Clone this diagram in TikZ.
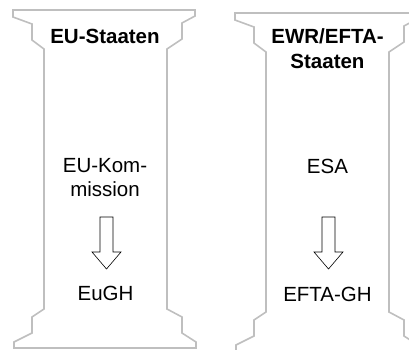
\documentclass[tikz,border=0pt]{standalone}
\usepackage{fontspec}
\setmainfont{Liberation Sans}
\begin{document}
\begin{tikzpicture}[x=1pt, y=-1pt, line join=miter]
			\tikzset{pillar/.style={draw=black!25, line width=1.6pt},
				blockarrow/.style={draw=black, line width=0.6pt, fill=white},
				label style/.style={font=\fontsize{20.5}{24.5}\selectfont, align=center, anchor=base},
				head style/.style={label style, font=\fontsize{20.5}{24.5}\selectfont\bfseries}}
			\useasboundingbox (0,0) rectangle (409,349);
			% the two pillars
			\foreach \dx/\dy in {0/0,222/3}
			\draw[pillar, shift={(\dx,\dy)}] (13,10)--(13,17)--(32,24)--(32,40)--(44,49)--(44,309)--(32,317)--(32,333)--(14,342)--(14,348)
				--(196,348)--(196,342)--(182,333)--(182,317)--(167,309)--(167,49)--(182,39)--(182,23)--(195,16)--(195,10)--cycle;
			% texts (base = last line)
			\node[head style] (eu) at (105,43) {EU-Staaten};
			\node[head style] (ewr) at (327.5,68.3) {EWR/EFTA-\\Staaten};
			\node[label style] (kom) at (105,196.7) {EU-Kom-\\mission};
			\node[label style] (esa) at (327.5,173) {ESA};
			\node[label style] (eugh) at (105.5,300) {EuGH};
			\node[label style] (eftagh) at (327.5,301) {EFTA-GH};
			% block arrows
			\foreach \dx in {0,222}
			\draw[blockarrow, shift={(\dx,0)}] (100,217)--(113,217)--(113,252)--(121,252)--(106.5,269)--(92,252)--(100,252)--cycle;
\end{tikzpicture}
\end{document}
